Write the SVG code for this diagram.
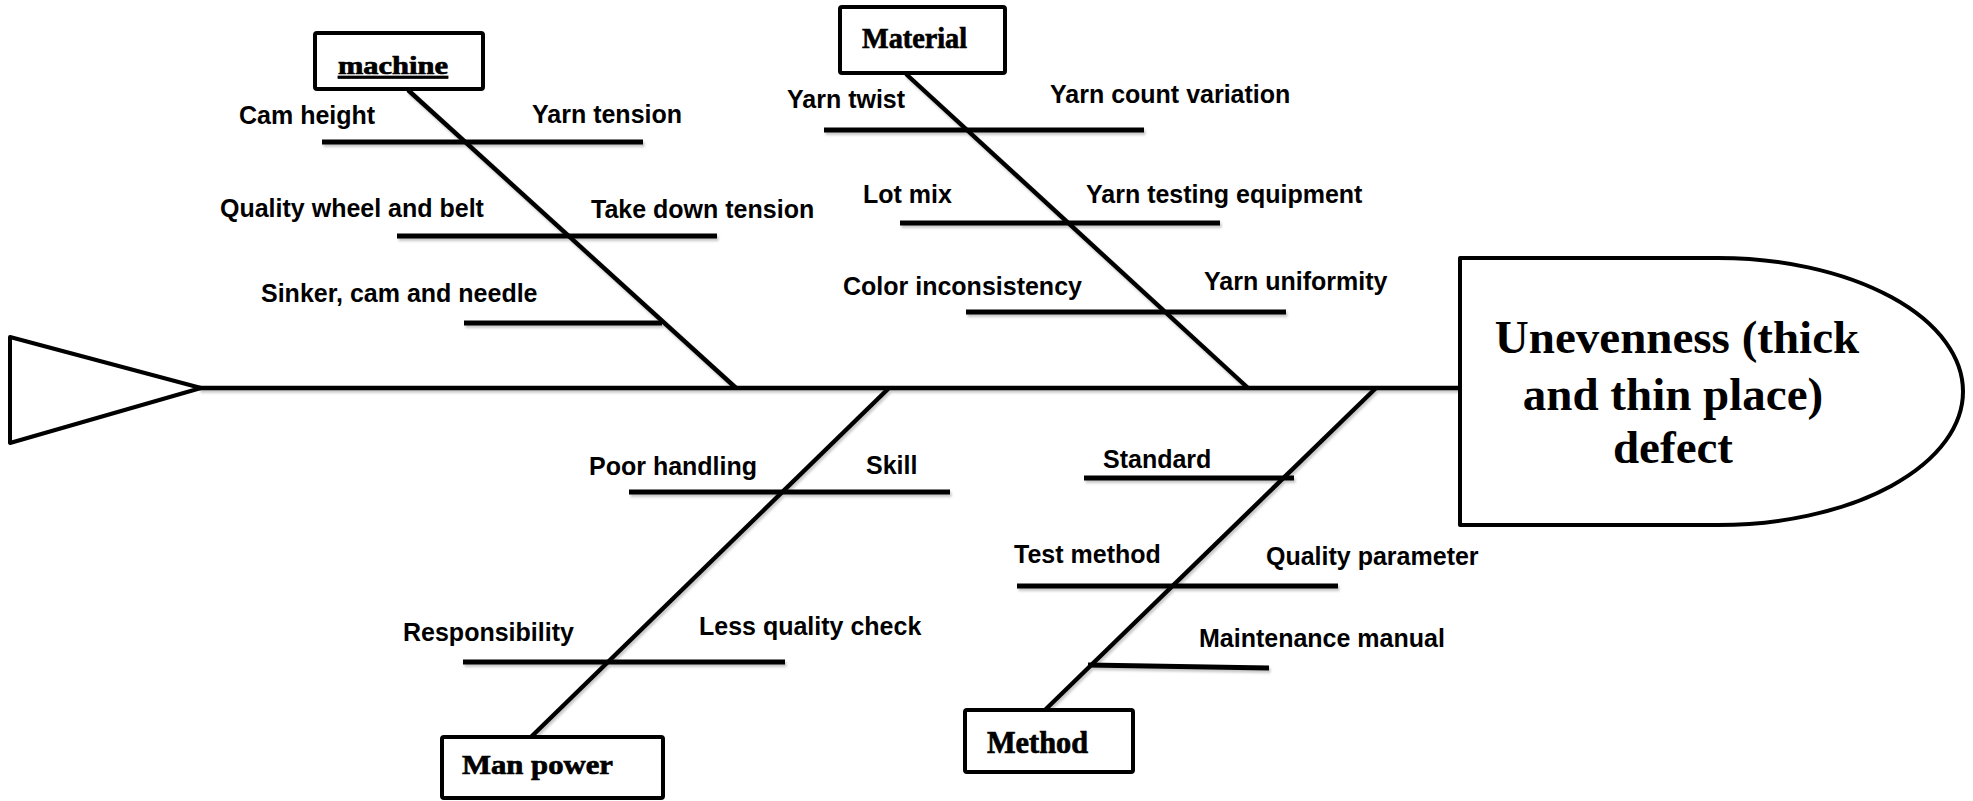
<svg xmlns="http://www.w3.org/2000/svg" width="1973" height="801" viewBox="0 0 1973 801">
<style>
.bg{fill:#ffffff}
.box{fill:#ffffff;stroke:#000;stroke-width:4;stroke-linejoin:round}
.spine{stroke:#000;stroke-width:4.4;stroke-linecap:butt;fill:none}
.rib{stroke:#000;stroke-width:5.2;stroke-linecap:butt;fill:none}
.main{stroke:#000;stroke-width:4.6;fill:none}
.cat{font-family:"Liberation Serif","Times New Roman",serif;font-weight:bold;fill:#000;stroke:#000;stroke-width:0.7}
.lbl{font-family:"Liberation Sans",Arial,sans-serif;font-weight:bold;font-size:25px;fill:#000}
.head{font-family:"Liberation Serif","Times New Roman",serif;font-weight:bold;font-size:47px;fill:#000;text-anchor:middle}
</style>
<defs>
<filter id="sh" x="-5%" y="-20%" width="110%" height="160%">
<feDropShadow dx="1.5" dy="2.5" stdDeviation="1.2" flood-color="#000" flood-opacity="0.22"/>
</filter>
</defs>
<rect class="bg" x="0" y="0" width="1973" height="801"/>

<g id="connectors" filter="url(#sh)">
<line class="main" x1="199" y1="388" x2="1460" y2="388"/>
<line class="spine" x1="408" y1="90" x2="736" y2="388"/>
<line class="spine" x1="906" y1="74" x2="1248" y2="388"/>
<line class="spine" x1="889" y1="388" x2="531" y2="737"/>
<line class="spine" x1="1376" y1="388" x2="1045" y2="710"/>
<line class="rib" x1="322" y1="142" x2="643" y2="142"/>
<line class="rib" x1="397" y1="236" x2="717" y2="236"/>
<line class="rib" x1="464" y1="323" x2="662" y2="323"/>
<line class="rib" x1="824" y1="130" x2="1144" y2="130"/>
<line class="rib" x1="900" y1="223" x2="1220" y2="223"/>
<line class="rib" x1="966" y1="312" x2="1286" y2="312"/>
<line class="rib" x1="629" y1="492" x2="950" y2="492"/>
<line class="rib" x1="463" y1="662" x2="785" y2="662"/>
<line class="rib" x1="1084" y1="478" x2="1294" y2="478"/>
<line class="rib" x1="1017" y1="586" x2="1338" y2="586"/>
<line class="rib" x1="1088" y1="665" x2="1269" y2="668"/>
</g>

<g id="tail">
<polygon class="box" points="10,337 201,388 10,443"/>
</g>

<g id="head">
<path class="box" d="M1460,258 H1718 A245,133.5 0 0 1 1718,525 H1460 Z"/>
<text class="head" x="1677" y="353">Unevenness (thick</text>
<text class="head" x="1673" y="410">and thin place)</text>
<text class="head" x="1673" y="463">defect</text>
</g>

<g id="machine">
<rect class="box" x="315" y="33" width="168" height="56" rx="2"/>
<text class="cat" x="338" y="74" font-size="25" textLength="110" lengthAdjust="spacingAndGlyphs" text-decoration="underline">machine</text>
</g>

<g id="material">
<rect class="box" x="840" y="7" width="165" height="66" rx="2"/>
<text class="cat" x="862" y="48" font-size="30" textLength="105" lengthAdjust="spacingAndGlyphs">Material</text>
</g>

<g id="manpower">
<rect class="box" x="442" y="737" width="221" height="61" rx="2"/>
<text class="cat" x="462" y="774" font-size="28" textLength="151" lengthAdjust="spacingAndGlyphs">Man power</text>
</g>

<g id="method">
<rect class="box" x="965" y="710" width="168" height="62" rx="2"/>
<text class="cat" x="987" y="753" font-size="32" textLength="101" lengthAdjust="spacingAndGlyphs">Method</text>
</g>

<g id="machine-causes">
<text class="lbl" x="239" y="124">Cam height</text>
<text class="lbl" x="532" y="123">Yarn tension</text>
<text class="lbl" x="220" y="217">Quality wheel and belt</text>
<text class="lbl" x="591" y="218">Take down tension</text>
<text class="lbl" x="261" y="302">Sinker, cam and needle</text>
</g>

<g id="material-causes">
<text class="lbl" x="787" y="108">Yarn twist</text>
<text class="lbl" x="1050" y="103">Yarn count variation</text>
<text class="lbl" x="863" y="203">Lot mix</text>
<text class="lbl" x="1086" y="203">Yarn testing equipment</text>
<text class="lbl" x="843" y="295">Color inconsistency</text>
<text class="lbl" x="1204" y="290">Yarn uniformity</text>
</g>

<g id="manpower-causes">
<text class="lbl" x="589" y="475">Poor handling</text>
<text class="lbl" x="866" y="474">Skill</text>
<text class="lbl" x="403" y="641">Responsibility</text>
<text class="lbl" x="699" y="635">Less quality check</text>
</g>

<g id="method-causes">
<text class="lbl" x="1103" y="468">Standard</text>
<text class="lbl" x="1014" y="563">Test method</text>
<text class="lbl" x="1266" y="565">Quality parameter</text>
<text class="lbl" x="1199" y="647">Maintenance manual</text>
</g>
</svg>
